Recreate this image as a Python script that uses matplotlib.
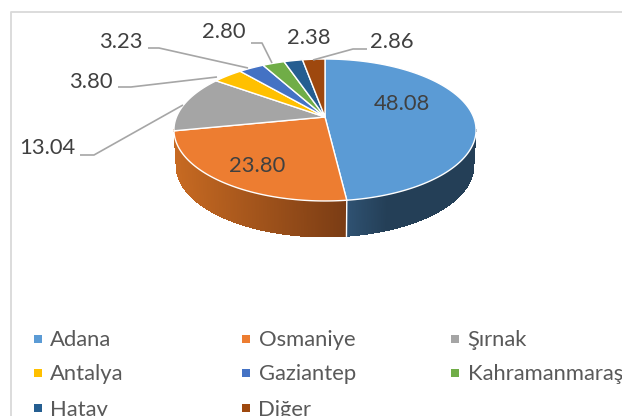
import numpy as np
import matplotlib
matplotlib.use("Agg")
import matplotlib.pyplot as plt

categories = ["Adana", "Osmaniye", "Şırnak", "Antalya", "Gaziantep", "Kahramanmaraş", "Hatay", "Diğer"]
values = [48.08, 23.80, 13.04, 3.80, 3.23, 2.80, 2.38, 2.86]
value_labels = ["48.08", "23.80", "13.04", "3.80", "3.23", "2.80", "2.38", "2.86"]
colors = ["#5b9bd5", "#ed7d31", "#a5a5a5", "#ffc000", "#4472c4", "#70ad47", "#255e91", "#9e480e"]

label_pos = [(402, 103.5), (257, 165.5), (47, 147.5), (91, 81.5), (121, 41.5), (224, 32.5), (309, 37.5), (392, 42.5)]
leaders = {
    2: [(80, 155), (94, 155), (183, 105)],
    3: [(118, 87), (131, 87), (217, 77)],
    4: [(148, 48), (159, 48), (248, 68)],
    5: [(251, 43), (262, 43), (272, 63)],
    7: [(313, 60), (353, 49), (367, 49)],
}
legend_x = [37.5, 246, 455]
legend_y = [339, 373, 408]

W, H = 622, 416
CX, CY, A, B, K = 325.0, 117.0, 148.5, 68.6, 0.183
DEPTH = 36.0

plt.rcParams["font.family"] = ["Lato", "DejaVu Sans"]
fig = plt.figure(figsize=(W / 100, H / 100), dpi=100)
ax = fig.add_axes([0, 0, 1, 1])
ax.set_xlim(0, W)
ax.set_ylim(H, 0)
ax.axis("off")


def rim(theta_deg, drop=0.0):
    t = np.radians(theta_deg)
    X, Y = np.sin(t), np.cos(t)
    w = 1 + K * Y
    shrink = 1 - 0.015 * drop / DEPTH
    return CX + A * X / w * shrink, CY - B * Y / w + drop


def lerp(c1, c2, f):
    a = np.array(matplotlib.colors.to_rgb(c1))
    b = np.array(matplotlib.colors.to_rgb(c2))
    return tuple(a + (b - a) * f)


# frame
ax.plot([11, 11, W + 2], [H + 2, 11.5, 11.5], color="#d9d9d9", lw=1.3, zorder=0)

edges = np.concatenate([[0], np.cumsum(values)]) / sum(values) * 360

# side wall
th_right = 100.5
th_left = 259.5
th_split = edges[1]
steps = np.arange(th_right, th_left, 0.25)
xr0 = rim(th_split)[0]
xr1 = rim(th_left)[0]
for t0 in steps:
    t1 = min(t0 + 0.5, th_left)
    x0, y0 = rim(t0)
    x1, y1 = rim(t1)
    x2, y2 = rim(t1, DEPTH)
    x3, y3 = rim(t0, DEPTH)
    if t0 < th_split:
        f = min(max((x0 - xr0) / 40.0, 0), 1)
        c = lerp("#2f5272", "#243f57", f)
    else:
        f = (xr0 - x0) / (xr0 - xr1)
        c = lerp("#7a3c14", "#c76a22", f)
    ax.fill([x0, x1, x2, x3], [y0, y1, y2, y3], color=c, lw=0, antialiased=False, zorder=1)

xs0, ys0 = rim(th_split)
xs1, ys1 = rim(th_split, DEPTH)
ax.plot([xs0, xs1], [ys0, ys1], color="white", lw=1.0, zorder=2)

# top face
for i, v in enumerate(values):
    ts = np.linspace(edges[i], edges[i + 1], max(int(v * 4), 6))
    x, y = rim(ts)
    ax.fill(np.r_[CX, x], np.r_[CY, y], facecolor=colors[i], edgecolor="white", lw=1.0, zorder=3, joinstyle="round")

# leaders
for pts in leaders.values():
    px, py = zip(*pts)
    ax.plot(px, py, color="#a6a6a6", lw=1.2, zorder=4, solid_capstyle="butt")

# value labels
for lab, (x, y) in zip(value_labels, label_pos):
    ax.text(x, y, lab, ha="center", va="center", fontsize=15.8, color="#404040", zorder=5)

# legend
for i, name in enumerate(categories):
    col, row = i % 3, i // 3
    ax.scatter([legend_x[col]], [legend_y[row]], marker="s", s=38, color=colors[i], linewidths=0, zorder=5, clip_on=False)
    ax.text(legend_x[col] + 12.5, legend_y[row] + 1.5, name, ha="left", va="center", fontsize=15.8, color="#595959", zorder=5)

fig.savefig("out.png", dpi=100)
